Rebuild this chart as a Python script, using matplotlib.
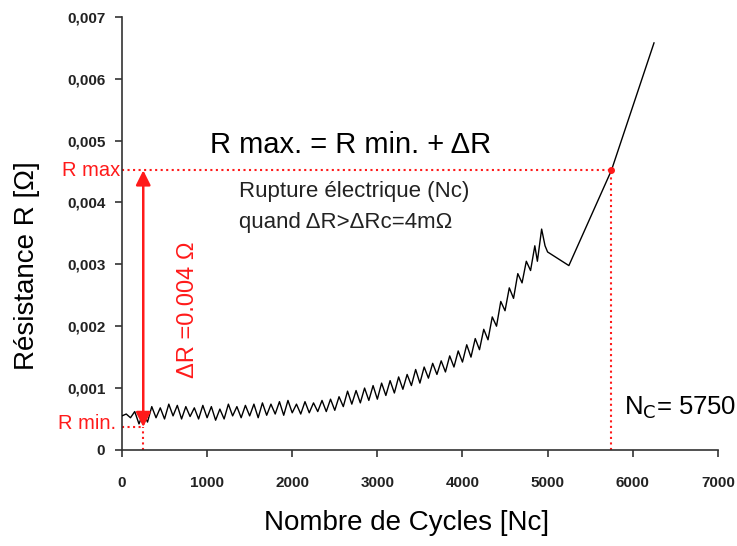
import matplotlib
matplotlib.use("Agg")
import matplotlib.pyplot as plt
import numpy as np
from matplotlib.ticker import FuncFormatter

plt.rcParams['font.family'] = ['Liberation Sans', 'DejaVu Sans']

# Data: number of cycles and resistance (in mOhm)
cycles = [0, 50, 100, 150, 200, 250, 300, 350, 400, 450, 500, 550, 600, 650, 700, 750,
          800, 850, 900, 950, 1000, 1050, 1100, 1150, 1200, 1250, 1300, 1350, 1400, 1450,
          1500, 1550, 1600, 1650, 1700, 1750, 1800, 1850, 1900, 1950, 2000, 2050, 2100,
          2150, 2200, 2250, 2300, 2350, 2400, 2450, 2500, 2550, 2600, 2650, 2700, 2750,
          2800, 2850, 2900, 2950, 3000, 3050, 3100, 3150, 3200, 3250, 3300, 3350, 3400,
          3450, 3500, 3550, 3600, 3650, 3700, 3750, 3800, 3850, 3900, 3950, 4000, 4050,
          4100, 4150, 4200, 4250, 4300, 4350, 4400, 4450, 4500, 4550, 4600, 4650, 4700,
          4750, 4800, 4850, 4880, 4930, 4970, 5000, 5250, 5750, 6250]
r_mohm = [0.55, 0.58, 0.52, 0.62, 0.42, 0.60, 0.45, 0.70, 0.52, 0.68, 0.50, 0.74, 0.55,
          0.72, 0.50, 0.70, 0.54, 0.68, 0.50, 0.72, 0.52, 0.70, 0.48, 0.66, 0.50, 0.74,
          0.55, 0.70, 0.52, 0.72, 0.55, 0.74, 0.52, 0.76, 0.56, 0.74, 0.58, 0.78, 0.56,
          0.80, 0.60, 0.74, 0.58, 0.78, 0.60, 0.76, 0.62, 0.80, 0.62, 0.82, 0.64, 0.86,
          0.70, 0.95, 0.74, 0.96, 0.76, 1.00, 0.80, 1.04, 0.82, 1.08, 0.88, 1.12, 0.92,
          1.18, 0.98, 1.22, 1.04, 1.30, 1.08, 1.34, 1.16, 1.40, 1.22, 1.44, 1.26, 1.52,
          1.34, 1.60, 1.42, 1.70, 1.50, 1.80, 1.62, 1.95, 1.78, 2.15, 2.00, 2.40, 2.25,
          2.62, 2.45, 2.85, 2.70, 3.05, 2.90, 3.30, 3.05, 3.57, 3.30, 3.20, 2.98, 4.52, 6.58]

r_min = 0.00037
r_max = 0.00452
n_min = 250
n_c = 5750

x_ticks = [0, 1000, 2000, 3000, 4000, 5000, 6000, 7000]
y_ticks = [0, 0.001, 0.002, 0.003, 0.004, 0.005, 0.006, 0.007]

fig = plt.figure(figsize=(7.37, 5.46), dpi=100)
ax = fig.add_axes([0.1655, 0.176, 0.8085, 0.793])

R = np.array(r_mohm) * 1e-3
ax.plot(cycles, R, color='black', lw=1.0, zorder=3)

red = '#ff1a1a'
# dotted guide lines
ax.plot([0, n_c], [r_max, r_max], color=red, ls=':', lw=1.5, zorder=2)
ax.plot([n_c, n_c], [0, r_max], color=red, ls=':', lw=1.5, zorder=2)
ax.plot([0, n_min], [r_min, r_min], color=red, ls=':', lw=1.5, zorder=2)
ax.plot([n_min, n_min], [0, r_min], color=red, ls=':', lw=1.5, zorder=2)
ax.plot([n_c], [r_max], 'o', color=red, ms=4, zorder=4)

# double arrow
ax.annotate('', xy=(n_min, r_min), xytext=(n_min, r_max),
            arrowprops=dict(arrowstyle='<|-|>', color=red, lw=1.8,
                            mutation_scale=22, shrinkA=0, shrinkB=0), zorder=4)

ax.text(n_min + 520, 0.00226, 'ΔR =0.004 Ω', rotation=90, color=red,
        fontsize=17, ha='center', va='center')

ax.text(2690, 0.00493, 'R max. = R min. + ΔR', fontsize=21, ha='center', va='center')
ax.text(1380, 0.00418, 'Rupture électrique (Nc)', fontsize=16,
        ha='left', va='center', color='#222222')
ax.text(1380, 0.00367, 'quand ΔR>ΔRc=4mΩ', fontsize=16,
        ha='left', va='center', color='#222222')
ax.text(5900, 0.00068, r'N$_\mathrm{C}$= 5750', fontsize=18.5, ha='left', va='center')

ax.text(-20, r_max, 'R max', color=red, fontsize=14.5, ha='right', va='center',
        clip_on=False)
ax.text(-70, r_min + 0.00005, 'R min.', color=red, fontsize=14.5, ha='right', va='center',
        clip_on=False)

ax.set_xlim(0, 7000)
ax.set_ylim(0, 0.007)
ax.set_xticks(x_ticks)
ax.set_yticks(y_ticks)
ax.yaxis.set_major_formatter(FuncFormatter(lambda v, p: '0' if v == 0 else f'{v:.3f}'.replace('.', ',')))
ax.xaxis.set_major_formatter(FuncFormatter(lambda v, p: f'{int(v)}'))

for s in ['top', 'right']:
    ax.spines[s].set_visible(False)
for s in ['left', 'bottom']:
    ax.spines[s].set_color('#333333')
    ax.spines[s].set_linewidth(1.2)
ax.tick_params(axis='both', direction='out', length=5, width=1.2, color='#333333',
               labelsize=11, labelcolor='#222222')
ax.tick_params(axis='x', pad=14)
ax.tick_params(axis='y', pad=7)
for lab in ax.get_xticklabels() + ax.get_yticklabels():
    lab.set_fontweight('bold')

ax.set_ylabel('Résistance R [Ω]', fontsize=20)
ax.yaxis.set_label_coords(-0.137, 0.426)
ax.set_xlabel('Nombre de Cycles [Nc]', fontsize=20)
ax.xaxis.set_label_coords(0.478, -0.139)

fig.savefig('out.png', dpi=100)
